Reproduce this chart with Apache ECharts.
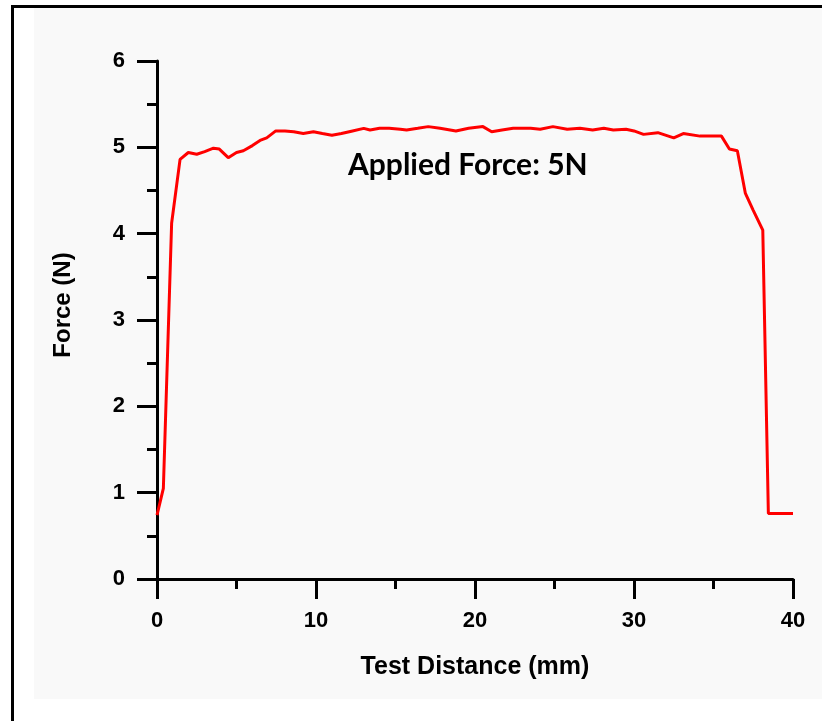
<!DOCTYPE html>
<html>
<head>
<meta charset="utf-8">
<script src="https://cdn.jsdelivr.net/npm/echarts@6/dist/echarts.min.js"></script>
<style>
  html, body { margin: 0; padding: 0; background: #fff; }
  #chart { width: 832px; height: 721px; }
</style>
</head>
<body>
<div id="chart"></div>
<script>
const distance = [0, 0.4, 0.92, 1.45, 1.97, 2.5, 3.0, 3.55, 3.92, 4.48, 5.0, 5.43, 6.0, 6.48, 6.9, 7.47, 8.05, 8.6, 9.2, 9.84,
  10.4, 11.0, 11.6, 12.3, 13.0, 13.4, 14.0, 14.6, 15.3, 15.7, 16.4, 17.06, 17.8, 18.8, 19.6, 20.5, 21.05, 21.7,
  22.4, 23.5, 24.1, 24.9, 25.8, 26.6, 27.4, 28.1, 28.7, 29.5, 30.0, 30.6, 31.5, 32.5, 33.1, 34.15, 35.5, 36.0,
  36.5, 37.0, 37.5, 38.1, 38.45, 40.0]
const force = [0.74, 1.05, 4.12, 4.86, 4.94, 4.92, 4.95, 4.99, 4.98, 4.88, 4.94, 4.96, 5.02, 5.08, 5.11, 5.19, 5.19, 5.18, 5.16, 5.18,
  5.16, 5.14, 5.16, 5.19, 5.22, 5.2, 5.22, 5.22, 5.21, 5.2, 5.22, 5.24, 5.22, 5.19, 5.22, 5.24, 5.18, 5.2,
  5.22, 5.22, 5.21, 5.24, 5.21, 5.22, 5.2, 5.22, 5.2, 5.21, 5.19, 5.15, 5.17, 5.11, 5.16, 5.13, 5.13, 4.98,
  4.96, 4.47, 4.27, 4.04, 0.76, 0.76]
const annotation = 'Applied Force: 5N'

const chart = echarts.init(document.getElementById('chart'))
const axisFont = { fontFamily: 'Liberation Sans, Arial', fontWeight: 'bold', color: '#000' }

chart.setOption({
  animation: false,
  grid: { left: 157, right: 39, top: 61, bottom: 142 },
  graphic: [
    // light panel and the black frame edges
    { type: 'rect', z: -10, shape: { x: 34, y: 7, width: 788, height: 692 }, style: { fill: '#f9f9f9' } },
    { type: 'rect', z: -5, shape: { x: 11, y: 5, width: 3, height: 716 }, style: { fill: '#000' } },
    { type: 'rect', z: -5, shape: { x: 11, y: 5, width: 811, height: 3 }, style: { fill: '#000' } },
    {
      type: 'text', left: 348, top: 150,
      style: { text: annotation, fontFamily: 'Lato, Open Sans', fontWeight: 'bold', fontSize: 30, fill: '#000' }
    }
  ],
  xAxis: {
    type: 'value', min: 0, max: 40, interval: 10,
    name: 'Test Distance (mm)', nameLocation: 'middle', nameGap: 76,
    nameTextStyle: Object.assign({ fontSize: 25 }, axisFont),
    axisLine: { onZero: false, lineStyle: { color: '#000', width: 3 } },
    axisTick: { inside: false, length: 20, lineStyle: { color: '#000', width: 3 } },
    minorTick: { show: true, splitNumber: 2, length: 10, lineStyle: { color: '#000', width: 3 } },
    splitLine: { show: false },
    axisLabel: Object.assign({ fontSize: 22, margin: 31 }, axisFont)
  },
  yAxis: {
    type: 'value', min: 0, max: 6, interval: 1,
    name: 'Force (N)', nameLocation: 'middle', nameGap: 82,
    nameTextStyle: Object.assign({ fontSize: 24, padding: [0, 0, 0, 30] }, axisFont),
    axisLine: { show: true, onZero: false, lineStyle: { color: '#000', width: 3 } },
    axisTick: { show: true, inside: false, length: 20, lineStyle: { color: '#000', width: 3 } },
    minorTick: { show: true, splitNumber: 2, length: 10, lineStyle: { color: '#000', width: 3 } },
    splitLine: { show: false },
    axisLabel: Object.assign({ fontSize: 22, margin: 32 }, axisFont)
  },
  series: [{
    type: 'line',
    data: distance.map((d, i) => [d, force[i]]),
    symbol: 'none',
    lineStyle: { color: '#ff0000', width: 3 }
  }]
})
</script>
</body>
</html>
